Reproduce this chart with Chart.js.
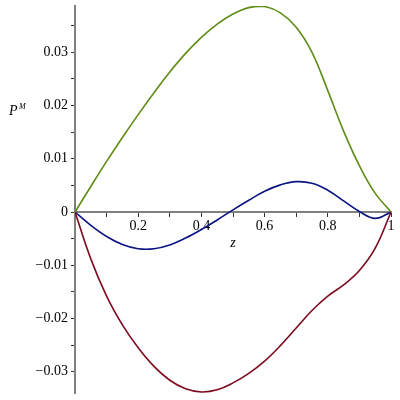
<!DOCTYPE html>
<html>
<head>
<meta charset="utf-8">
<script src="https://cdn.jsdelivr.net/npm/chart.js@4.4.1/dist/chart.umd.min.js"></script>
<style>
  html, body { margin: 0; padding: 0; background: #ffffff; }
  #wrap { width: 400px; height: 400px; }
</style>
</head>
<body>
<div id="wrap"><canvas id="c" width="400" height="400"></canvas></div>
<script>
// z values (x axis)
const zValues = [0, 0.05, 0.1, 0.15, 0.2, 0.25, 0.3, 0.35, 0.4, 0.45, 0.5,
                 0.55, 0.6, 0.65, 0.7, 0.75, 0.8, 0.85, 0.9, 0.95, 1];
// green curve
const greenValues = [0, 0.0048, 0.0095, 0.0140, 0.0183, 0.0224, 0.0263, 0.0298, 0.0328, 0.0353, 0.0372,
                     0.0384, 0.0386, 0.0374, 0.0347, 0.0300, 0.0228, 0.0152, 0.0087, 0.0035, 0];
// blue curve
const blueValues = [0, -0.0025, -0.0046, -0.0061, -0.0069, -0.0069, -0.0062, -0.0049, -0.0033, -0.0015, 0.0004,
                    0.0022, 0.0039, 0.0051, 0.0057, 0.0054, 0.0041, 0.0021, 0.0001, -0.0012, 0];
// red curve
const redValues = [0, -0.0088, -0.0158, -0.0212, -0.0255, -0.0290, -0.0316, -0.0332, -0.0338, -0.0334, -0.0321,
                   -0.0303, -0.0280, -0.0251, -0.0218, -0.0185, -0.0158, -0.0137, -0.0110, -0.0068, 0];
// labelled ticks
const xTickLabels = [0.2, 0.4, 0.6, 0.8, 1];
const yTickLabels = [-0.03, -0.02, -0.01, 0, 0.01, 0.02, 0.03];

const toPts = (ys) => zValues.map((z, i) => ({x: z, y: ys[i]}));
const near = (v, arr) => arr.some(a => Math.abs(a - v) < 1e-9);
const serif = '"Liberation Serif", "DejaVu Serif", serif';

const labelPlugin = {
  id: 'axisLabels',
  afterDraw(chart) {
    const ctx = chart.ctx;
    const xs = chart.scales.x;
    ctx.save();
    ctx.fillStyle = '#000';
    ctx.textBaseline = 'alphabetic';
    ctx.textAlign = 'left';
    ctx.font = 'italic 14px ' + serif;
    ctx.fillText('P', 9, 115);
    ctx.font = 'italic 8px ' + serif;
    ctx.fillText('M', 19, 109);
    ctx.font = 'italic 14px ' + serif;
    ctx.textAlign = 'center';
    ctx.fillText('z', (xs.left + xs.right) / 2, 247);
    ctx.restore();
  }
};

const common = {showLine: true, pointRadius: 0, borderWidth: 1.6, fill: false, tension: 0.4};

new Chart(document.getElementById('c'), {
  type: 'scatter',
  data: {
    datasets: [
      Object.assign({label: 'green', data: toPts(greenValues), borderColor: '#5e8c14'}, common),
      Object.assign({label: 'red', data: toPts(redValues), borderColor: '#7d0a1e'}, common),
      Object.assign({label: 'blue', data: toPts(blueValues), borderColor: '#0a1482'}, common)
    ]
  },
  options: {
    responsive: false,
    animation: false,
    events: [],
    layout: { padding: { left: 0, right: 9, top: 6, bottom: 7 } },
    plugins: { legend: { display: false }, tooltip: { enabled: false } },
    scales: {
      x: {
        type: 'linear',
        position: { y: 0 },
        min: 0, max: 1,
        grid: { display: true, drawOnChartArea: false, drawTicks: true, tickLength: 4, tickColor: '#333', tickWidth: 1 },
        border: { display: true, color: '#808080', width: 2 },
        ticks: {
          stepSize: 0.1,
          includeBounds: false,
          autoSkip: false,
          maxRotation: 0,
          padding: 2,
          color: '#000',
          font: { family: serif, size: 14 },
          callback: (v) => (near(v, xTickLabels) ? String(+v.toFixed(2)) : '')
        },
        afterFit: (s) => { s.paddingLeft = 0; s.paddingRight = 0; }
      },
      y: {
        type: 'linear',
        position: 'left',
        min: -0.034, max: 0.0387,
        grid: { display: true, drawOnChartArea: false, drawTicks: true, tickLength: 4, tickColor: '#333', tickWidth: 1 },
        border: { display: true, color: '#808080', width: 2 },
        ticks: {
          stepSize: 0.005,
          includeBounds: false,
          autoSkip: false,
          padding: 3,
          color: '#000',
          font: { family: serif, size: 14 },
          callback: (v) => (near(v, yTickLabels) ? String(+v.toFixed(3)).replace('-', '\u2212') : '')
        },
        afterFit: (s) => { s.width = 75; s.paddingTop = 0; s.paddingBottom = 0; }
      }
    }
  },
  plugins: [labelPlugin]
});
</script>
</body>
</html>
